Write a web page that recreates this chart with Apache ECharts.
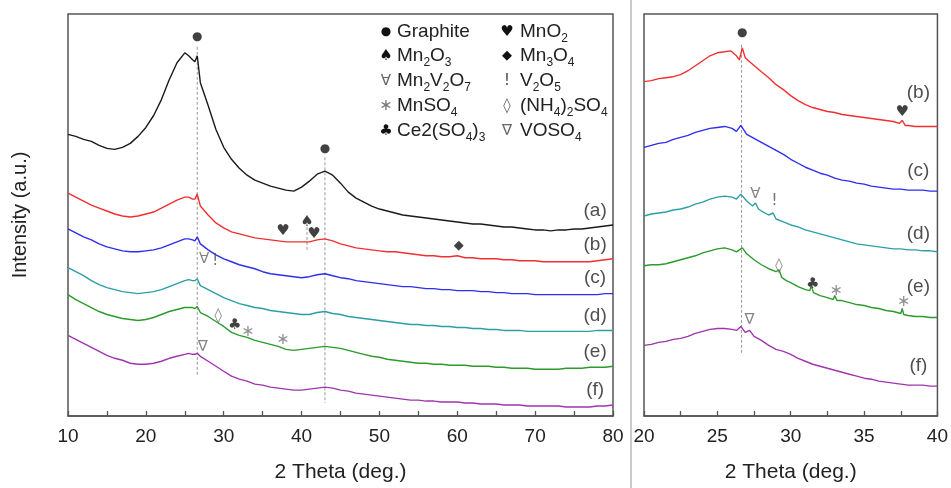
<!DOCTYPE html>
<html>
<head>
<meta charset="utf-8">
<script src="https://cdn.jsdelivr.net/npm/echarts@6/dist/echarts.min.js"></script>
<style>
  html, body { margin: 0; padding: 0; background: #fff; }
  #chart { width: 951px; height: 488px; }
</style>
</head>
<body>
<div id="chart"></div>
<script>
// 左图 2θ 取样点 (deg.)
const xLeft = [10,11,12,13,14,15,16,17,18,19,20,21,22,23,24,
  25,25.5,26,26.3,26.6,27,
  28,29,30,31,32,33,34,35,36,37,38,39,40,41,42,43,44,45,46,47,48,49,50,
  51,52,53,54,55,56,57,58,59,60,61,62,63,64,65,66,67,68,69,70,
  71,72,73,74,75,76,77,78,79,80];

// 左图各曲线强度 (a.u.，已按图中堆叠偏移)
const curveA = [283,281,278,276,272,269,268,270,274,281,290,302,318,338,355,
  365,362,358,356,362,335,
  312,288,270,258,249,242,237,234,231,229,227,226,230,236,243,246,242,234,225,219,215,211,208,
  206,204,202,201,200,199,198,197,196,195,194,193,193,192,191,190,190,189,188,187,
  187,186,187,187,188,188,189,190,191,192];
const curveB = [224,220,216,212,209,206,203,201,200,201,203,205,209,213,217,
  220,220,218,218,223,211,
  202,194,189,185,183,181,179,178,177,176,175,175,175,175,177,178,176,173,171,169,168,167,166,
  165,165,164,163,162,161,161,160,160,161,159,159,158,158,158,157,157,156,156,156,
  155,155,155,155,155,155,155,156,157,158];
const curveC = [188,184,180,177,173,170,168,166,165,165,166,167,169,172,175,
  178,178,177,176,180,173,
  167,162,158,155,152,150,148,145,143,142,141,140,139,140,142,143,141,139,138,136,135,134,133,
  132,131,130,130,129,128,128,127,127,126,126,126,125,125,124,124,123,123,123,122,
  122,122,122,122,122,122,122,122,123,123];
const curveD = [149,145,141,136,132,129,127,125,124,123,124,125,127,130,133,
  136,137,136,136,138,131,
  127,123,119,116,113,111,109,108,106,105,104,103,102,102,104,105,103,102,100,99,98,97,96,
  95,94,93,92,92,91,91,90,90,89,89,88,88,87,87,86,86,86,85,85,
  85,85,85,85,85,85,85,86,86,86];
const curveE = [122,117,113,109,105,102,100,98,97,96,97,99,102,105,107,
  109,109,109,108,110,104,
  100,95,90,84,81,79,76,74,72,70,67,66,67,68,69,70,69,68,66,64,62,60,59,
  57,56,55,54,53,53,52,52,51,51,51,50,50,50,49,49,48,48,48,47,
  47,47,47,48,48,48,49,49,49,50];
const curveF = [81,77,73,69,65,61,58,56,53,52,52,53,55,58,60,
  62,63,62,62,63,60,
  55,50,45,40,37,35,32,31,29,28,27,26,26,27,28,29,28,26,25,23,22,21,20,
  19,18,17,16,16,15,15,14,14,14,13,13,12,12,12,11,11,11,10,10,
  10,10,10,9,9,9,9,10,10,11];

// 右图 (20-40°) 各曲线 [2θ, 强度]
const rightB = [[20,336],[20.5,337],[21,339],[21.5,340],[22,341],[22.5,343],[23,347],[23.5,352],[24,357],[24.5,362],
  [25,365],[25.5,366],[25.9,367],[26.3,362],[26.5,358],[26.7,370],[26.9,360],[27.2,356],[27.6,351],[28,346],
  [28.5,340],[29,333],[29.5,328],[30,322],[30.5,317],[31,313],[31.5,310],[32,308],[32.5,306],[33,305],
  [33.5,303],[34,302],[34.5,301],[35,300],[35.5,299],[36,298],[36.5,297],[37,296],[37.4,294],[37.6,297],
  [37.8,292],[38,292],[38.5,291],[39,291],[39.5,291],[40,291]];
const rightC = [[20,270],[20.5,272],[21,274],[21.5,275],[22,278],[22.5,280],[23,282],[23.5,285],[24,287],[24.5,289],
  [25,290],[25.5,291],[26,289],[26.3,286],[26.6,292],[27,283],[27.5,279],[28,275],[28.5,271],[29,267],
  [29.5,263],[30,258],[30.5,254],[31,250],[31.5,247],[32,244],[32.5,242],[33,239],[33.5,237],[34,236],
  [34.5,234],[35,233],[35.5,231],[36,230],[36.5,229],[37,228],[37.5,228],[38,227],[38.5,227],[39,227],
  [39.5,226],[40,226]];
const rightD = [[20,201],[20.5,203],[21,204],[21.5,205],[22,207],[22.5,208],[23,210],[23.5,213],[24,215],[24.5,218],
  [25,220],[25.5,221],[26,220],[26.3,218],[26.6,223],[27,216],[27.4,211],[27.6,214],[27.8,208],[28,206],
  [28.5,202],[28.8,204],[29,198],[29.5,195],[30,192],[30.5,190],[31,187],[31.5,185],[32,183],[32.5,181],
  [33,179],[33.5,177],[34,175],[34.5,173],[35,172],[35.5,171],[36,170],[36.5,169],[37,168],[37.5,168],
  [38,167],[38.5,167],[39,166],[39.5,166],[40,165]];
const rightE = [[20,151],[20.5,152],[21,152],[21.5,153],[22,155],[22.5,157],[23,159],[23.5,161],[24,164],[24.5,166],
  [25,168],[25.5,169],[26,167],[26.3,165],[26.7,169],[27,163],[27.5,157],[28,152],[28.5,148],[29,145],
  [29.2,147],[29.4,139],[29.7,136],[30,134],[30.5,130],[31,127],[31.3,126],[31.4,131],[31.55,124],[32,121],
  [32.5,119],[32.9,117],[33,121],[33.15,116],[33.5,116],[34,114],[34.5,112],[35,111],[35.5,109],[36,108],
  [36.5,106],[37,105],[37.5,103],[37.6,108],[37.7,102],[38,101],[38.5,100],[39,100],[39.5,99],[40,99]];
const rightF = [[20,71],[20.5,72],[21,74],[21.5,75],[22,77],[22.5,78],[23,80],[23.5,83],[24,85],[24.5,87],
  [25,88],[25.5,88],[26,87],[26.3,86],[26.6,90],[26.9,84],[27.2,86],[27.5,80],[28,76],[28.5,71],
  [29,67],[29.5,65],[30,62],[30.5,58],[31,55],[31.5,52],[32,50],[32.5,48],[33,46],[33.5,44],
  [34,42],[34.5,40],[35,38],[35.5,37],[36,35],[36.5,34],[37,33],[37.5,32],[38,31],[38.5,31],
  [39,31],[39.5,30],[40,30]];

// 物相标记 [2θ, 强度, 符号]
const marksLeft = [[26.6,381,'●'],[43.0,268,'●'],[37.6,186,'♥'],[40.7,195,'♠'],[41.6,183,'♥'],[60.2,171,'◆'],
  [27.5,158,'∀'],[28.9,156,'!'],[29.3,100,'◊'],[31.4,91,'♣'],[33.1,85,'∗'],[37.6,77,'∗'],[27.3,69,'∇']];
const marksRight = [[26.7,385,'●'],[37.6,305,'♥'],[27.6,223,'∀'],[28.9,216,'!'],[29.2,151,'◊'],
  [31.5,133,'♣'],[33.1,126,'∗'],[37.7,115,'∗'],[27.2,96,'∇']];

// 虚线参考线 [2θ, 起, 止]
const dropLeft = [[26.6,371,40],[43.0,260,13],[40.7,190,165]];
const dropRight = [[26.65,373,63]];

// 曲线编号
const tagsLeft = [['(a)',206],['(b)',172],['(c)',139],['(d)',101],['(e)',65],['(f)',26]];
const tagsRight = [['(b)',325],['(c)',246],['(d)',183],['(e)',130],['(f)',50]];

// 图例
const legendSyms = ['●','♥','♠','◆','∀','!','∗','◊','♣','∇'];
const legendNames = ['Graphite','MnO{s|2}','Mn{s|2}O{s|3}','Mn{s|3}O{s|4}','Mn{s|2}V{s|2}O{s|7}','V{s|2}O{s|5}',
  'MnSO{s|4}','(NH{s|4}){s|2}SO{s|4}','Ce2(SO{s|4}){s|3}','VOSO{s|4}'];

const COLORS = ['#1a1a1a','#f03030','#2e2ef0','#2b9fa6','#2c9a2c','#a035ad'];
const FONT = 'Liberation Sans, Arial, sans-serif';
const GLYPH = {
  '●': { size: 12, color: '#111' }, '♥': { size: 15, color: '#111' }, '♠': { size: 15, color: '#111' },
  '◆': { size: 13, color: '#111' }, '♣': { size: 15, color: '#111' }, '∀': { size: 15, color: '#666' },
  '!': { size: 16, color: '#555' }, '◊': { size: 15, color: '#666' }, '∗': { size: 16, color: '#777' },
  '∇': { size: 15, color: '#666' }
};

const chart = echarts.init(document.getElementById('chart'));

function xAxisOpt(grid, min, max, interval) {
  return {
    gridIndex: grid, type: 'value', min: min, max: max, interval: interval,
    axisLine: { lineStyle: { color: '#555', width: 1.5 } },
    axisTick: { inside: true, length: 5, lineStyle: { color: '#555', width: 1.3 } },
    minorTick: { show: true, splitNumber: 2, length: 5, lineStyle: { color: '#555', width: 1.3 } },
    splitLine: { show: false },
    axisLabel: { fontSize: 19, color: '#222', fontFamily: FONT, margin: 11 },
    name: '2 Theta (deg.)', nameLocation: 'middle', nameGap: 46,
    nameTextStyle: { fontSize: 21, color: '#222', fontFamily: FONT }
  };
}
function yAxisOpt(grid, withName) {
  const o = {
    gridIndex: grid, type: 'value', min: 0, max: 404,
    axisLine: { show: false }, axisTick: { show: false },
    axisLabel: { show: false }, splitLine: { show: false }
  };
  if (withName) {
    o.name = 'Intensity (a.u.)';
    o.nameLocation = 'middle';
    o.nameGap = 38;
    o.nameTextStyle = { fontSize: 20, color: '#222', fontFamily: FONT };
  }
  return o;
}

const series = [];

// 虚线
dropLeft.concat(dropRight.map(d => d.concat(['R']))).forEach(d => {
  const right = d[3] === 'R';
  series.push({
    type: 'line', xAxisIndex: right ? 1 : 0, yAxisIndex: right ? 1 : 0,
    data: [[d[0], d[1]], [d[0], d[2]]], symbol: 'none', silent: true,
    lineStyle: { color: '#999', width: 1, type: [3, 2] }
  });
});

// 左图曲线
[curveA, curveB, curveC, curveD, curveE, curveF].forEach((c, i) => {
  series.push({
    type: 'line', xAxisIndex: 0, yAxisIndex: 0, symbol: 'none',
    data: xLeft.map((x, k) => [x, c[k]]),
    lineStyle: { color: COLORS[i], width: 1.4 }
  });
});
// 右图曲线
[rightB, rightC, rightD, rightE, rightF].forEach((c, i) => {
  series.push({
    type: 'line', xAxisIndex: 1, yAxisIndex: 1, symbol: 'none',
    data: c, lineStyle: { color: COLORS[i + 1], width: 1.4 }
  });
});

// 符号和编号都用透明散点 + 标签
function textSeries(items, axis) {
  return {
    type: 'scatter', xAxisIndex: axis, yAxisIndex: axis, symbolSize: 1,
    itemStyle: { color: 'rgba(0,0,0,0)' }, silent: true, z: 5,
    data: items
  };
}
function glyphItems(marks) {
  return marks.map(m => ({
    value: [m[0], m[1]],
    label: {
      show: true, position: 'inside', formatter: m[2],
      fontSize: GLYPH[m[2]].size, color: GLYPH[m[2]].color, fontFamily: 'DejaVu Sans'
    }
  }));
}
function tagItems(tags, x) {
  return tags.map(t => ({
    value: [x, t[1]],
    label: { show: true, position: 'inside', formatter: t[0], fontSize: 19, color: '#222', fontFamily: FONT }
  }));
}
series.push(textSeries(glyphItems(marksLeft), 0));
series.push(textSeries(glyphItems(marksRight), 1));
series.push(textSeries(tagItems(tagsLeft, 77.7), 0));
series.push(textSeries(tagItems(tagsRight, 38.7), 1));

// 图例 (文字 + 下标)
const legendGraphics = [];
const rowY = [32, 56, 81, 106, 131];
legendSyms.forEach((s, i) => {
  const col = i % 2, row = Math.floor(i / 2);
  legendGraphics.push({
    type: 'text', x: col ? 507 : 386, y: rowY[row],
    style: { text: s, fontSize: GLYPH[s].size, fill: GLYPH[s].color, fontFamily: 'DejaVu Sans',
      align: 'center', verticalAlign: 'middle' }
  });
  legendGraphics.push({
    type: 'text', x: col ? 520 : 397, y: rowY[row] - 11,
    style: {
      text: legendNames[i], fontSize: 19, fill: '#222', fontFamily: FONT,
      verticalAlign: 'top', lineHeight: 22,
      rich: { s: { fontSize: 12, fill: '#222', fontFamily: FONT, lineHeight: 12, verticalAlign: 'top', padding: [12, 0, 0, 0] } }
    }
  });
});

const option = {
  animation: false,
  backgroundColor: '#fff',
  grid: [
    { left: 68, top: 14, width: 545, height: 404, show: true, borderColor: '#555', borderWidth: 1.5 },
    { left: 644, top: 14, width: 295, height: 404, show: true, borderColor: '#555', borderWidth: 1.5 }
  ],
  xAxis: [xAxisOpt(0, 10, 80, 10), xAxisOpt(1, 20, 40, 5)],
  yAxis: [yAxisOpt(0, true), yAxisOpt(1, false)],
  series: series,
  graphic: [
    { type: 'line', shape: { x1: 631, y1: 0, x2: 631, y2: 488 }, style: { stroke: '#bbb', lineWidth: 1.5 } }
  ].concat(legendGraphics)
};

chart.setOption(option);

window.addEventListener('resize', function() {
  chart.resize();
});
</script>
</body>
</html>
